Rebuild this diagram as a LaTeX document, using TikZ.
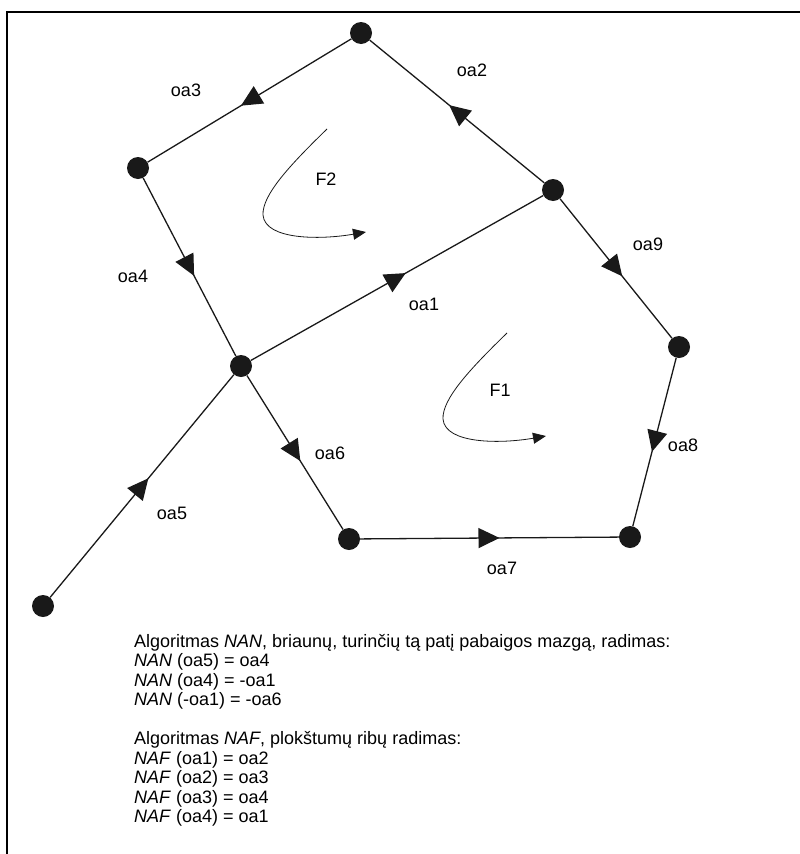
\documentclass[tikz,border=0pt]{standalone}
\usepackage{fontspec}
\setmainfont{Liberation Sans}
\usetikzlibrary{arrows.meta,decorations.markings}

\begin{document}
\begin{tikzpicture}[
  x=1pt, y=-1pt,
  font=\fontsize{18}{19.5}\selectfont,
  vertex/.style={circle, fill=black!90, inner sep=0pt, minimum size=22pt},
  edge/.style={line width=1.3pt, black!90, postaction={decorate},
    decoration={markings, mark=at position 0.5 with {\arrow[xshift=10pt]{Triangle[length=21pt, width=20pt]}}}},
  turn/.style={line width=0.8pt, black!90, -{Triangle[length=13pt, width=11pt]}},
  lbl/.style={inner sep=1pt},
]
\useasboundingbox (0,0) rectangle (800,854);
% frame
\draw[line width=2.2pt] (7,854) -- (7,12) -- (800,12);

% vertices
\node[vertex] (a) at (361,33) {};
\node[vertex] (b) at (138,168) {};
\node[vertex] (c) at (553,190) {};
\node[vertex] (d) at (241,366) {};
\node[vertex] (e) at (679,347) {};
\node[vertex] (f) at (43,606) {};
\node[vertex] (g) at (349,539) {};
\node[vertex] (h) at (630,537) {};

% oriented edges
\draw[edge] (a) -- (b);
\draw[edge] (c) -- (a);
\draw[edge] (b) -- (d);
\draw[edge] (d) -- (c);
\draw[edge] (c) -- (e);
\draw[edge] (e) -- (h);
\draw[edge] (g) -- (h);
\draw[edge] (d) -- (g);
\draw[edge] (f) -- (d);

% edge labels
\node[lbl] (oa3) at (186,90) {oa3};
\node[lbl] (oa2) at (472,70) {oa2};
\node[lbl] (oa4) at (133,276) {oa4};
\node[lbl] (oa1) at (424,304) {oa1};
\node[lbl] (oa9) at (648,244) {oa9};
\node[lbl] (oa8) at (683,445) {oa8};
\node[lbl] (oa7) at (502,568) {oa7};
\node[lbl] (oa6) at (330,453) {oa6};
\node[lbl] (oa5) at (172,513) {oa5};

% faces and their turning sense
\node[lbl] (f2) at (326,179) {F2};
\draw[turn] (327,129) .. controls (290,165) and (262,195) .. (263,215)
  .. controls (265,240) and (320,240) .. (366,232);
\node[lbl] (f1) at (500,390) {F1};
\draw[turn] (507,333) .. controls (470,369) and (442,399) .. (443,419)
  .. controls (445,444) and (500,444) .. (546,436);

% algorithm text
\node[anchor=north west, align=left, inner sep=0pt] (algo) at (134,634) {%
Algoritmas \textit{NAN}, briaunų, turinčių tą patį pabaigos mazgą, radimas:\\
\textit{NAN} (oa5) = oa4\\
\textit{NAN} (oa4) = -oa1\\
\textit{NAN} (-oa1) = -oa6\\[19.5pt]
Algoritmas \textit{NAF}, plokštumų ribų radimas:\\
\textit{NAF} (oa1) = oa2\\
\textit{NAF} (oa2) = oa3\\
\textit{NAF} (oa3) = oa4\\
\textit{NAF} (oa4) = oa1};
\end{tikzpicture}
\end{document}
